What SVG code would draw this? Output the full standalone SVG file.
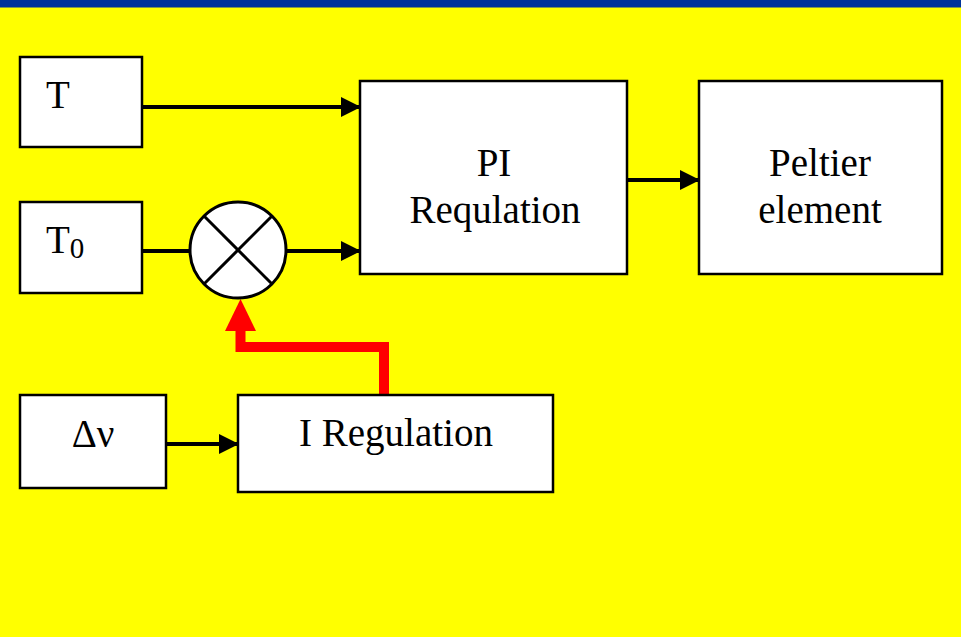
<svg xmlns="http://www.w3.org/2000/svg" width="961" height="637" viewBox="0 0 961 637">
  <defs>
    <style>
      .box { fill: #FFFFFF; stroke: #000000; stroke-width: 2.5; }
      .lbl { font-family: "Liberation Serif", "Times New Roman", serif; font-size: 39px; fill: #000000; }
      .mid { text-anchor: middle; }
      .wire { stroke: #000000; stroke-width: 4; fill: none; }
      .red { stroke: #FF0000; stroke-width: 10; fill: none; }
    </style>
    <marker id="arr" markerUnits="userSpaceOnUse" viewBox="0 0 20 20" refX="20" refY="10" markerWidth="20" markerHeight="20" orient="auto">
      <path d="M0,0 L20,10 L0,20 z" fill="#000000"/>
    </marker>
  </defs>

  <rect x="0" y="0" width="961" height="637" fill="#FFFF00"/>
  <rect x="0" y="0" width="961" height="7.5" fill="#003399"/>

  <g id="connectors">
    <line class="wire" x1="142" y1="107" x2="361" y2="107" marker-end="url(#arr)"/>
    <line class="wire" x1="142" y1="251" x2="190" y2="251"/>
    <line class="wire" x1="286" y1="251" x2="361" y2="251" marker-end="url(#arr)"/>
    <line class="wire" x1="627" y1="180" x2="700" y2="180" marker-end="url(#arr)"/>
    <line class="wire" x1="166" y1="444" x2="239" y2="444" marker-end="url(#arr)"/>
    <path class="red" d="M384,395 V347 H240.5 V326"/>
    <polygon points="240.5,299 225,331 256,331" fill="#FF0000"/>
  </g>

  <g id="node-T">
    <rect class="box" x="20" y="57" width="122" height="90"/>
    <text class="lbl" x="46" y="108" font-size="40">T</text>
  </g>

  <g id="node-T0">
    <rect class="box" x="20" y="202" width="122" height="91"/>
    <text class="lbl" x="46" y="253" font-size="40">T<tspan font-size="29" dy="5">0</tspan></text>
  </g>

  <g id="node-mixer">
    <circle cx="238" cy="250" r="48" fill="#FFFFFF" stroke="#000000" stroke-width="3"/>
    <line x1="204" y1="216" x2="272" y2="284" stroke="#000000" stroke-width="3"/>
    <line x1="272" y1="216" x2="204" y2="284" stroke="#000000" stroke-width="3"/>
  </g>

  <g id="node-PI">
    <rect class="box" x="360" y="81" width="267" height="193"/>
    <text class="lbl mid" x="494" y="176">PI</text>
    <text class="lbl mid" x="495" y="223">Requlation</text>
  </g>

  <g id="node-peltier">
    <rect class="box" x="699" y="81" width="243" height="193"/>
    <text class="lbl mid" x="820" y="176">Peltier</text>
    <text class="lbl mid" x="820" y="223">element</text>
  </g>

  <g id="node-dnu">
    <rect class="box" x="20" y="395" width="146" height="93"/>
    <text class="lbl mid" x="93" y="447">Δν</text>
  </g>

  <g id="node-IReg">
    <rect class="box" x="238" y="395" width="315" height="97"/>
    <text class="lbl mid" x="396" y="446">I Regulation</text>
  </g>
</svg>
